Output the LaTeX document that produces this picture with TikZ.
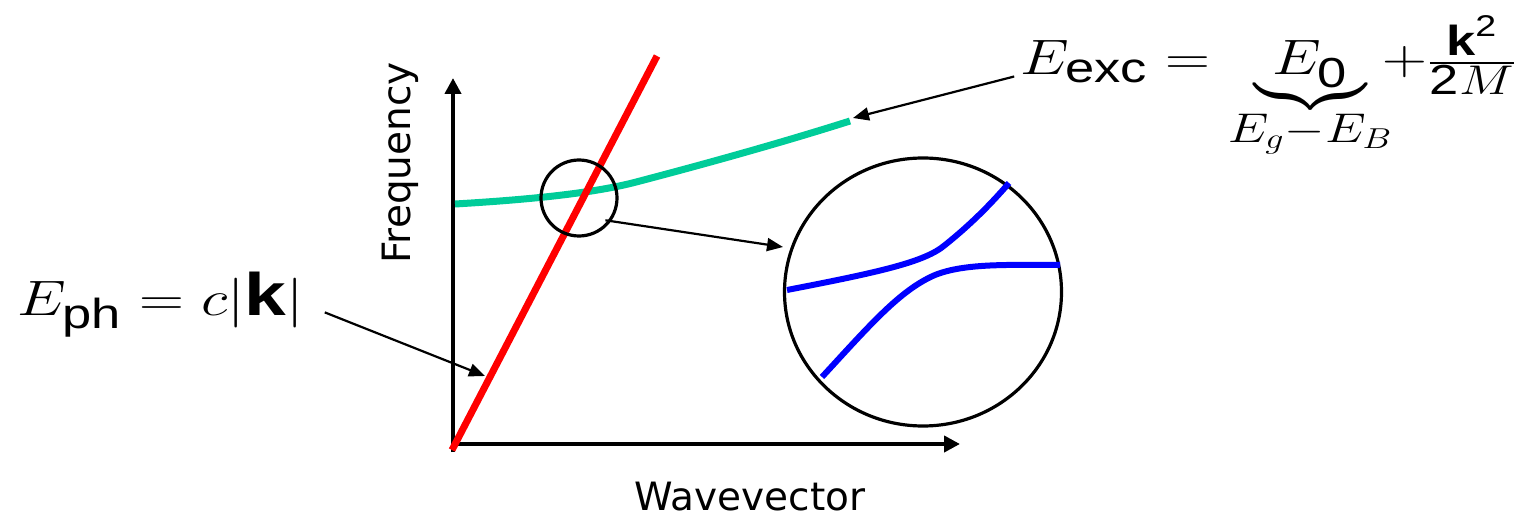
\documentclass[tikz,border=0pt]{standalone}
\usepackage{amsmath}
\usepackage{graphicx}
\usepackage{fontspec}
\setsansfont{Liberation Sans}
\newfontfamily\labelfont{DejaVu Sans}
\usetikzlibrary{arrows.meta,shapes.geometric}
\definecolor{excgreen}{RGB}{0,204,153}
\newcommand{\sft}[1]{\text{\sffamily #1}}
\newcommand{\sfk}{\text{\sffamily\bfseries k}}
\newcommand{\wideeq}[1]{\scalebox{1.25}[1]{#1}}
\begin{document}
\begin{tikzpicture}[x=0.5pt,y=-0.5pt,
  axis/.style={line width=2pt,-{Triangle[length=8pt,width=8pt]}},
  ptr/.style={line width=1.1pt,-{Triangle[length=8pt,width=6.5pt]}},
  lens/.style={draw,line width=1.6pt,inner sep=0pt,outer sep=0pt},
  axlabel/.style={font=\labelfont\fontsize{19.5}{23}\selectfont,inner sep=0pt},
  eqlabel/.style={font=\fontsize{30}{36}\selectfont,inner sep=0pt},
  curve/.style={line width=3.5pt},
  bluecurve/.style={blue,line width=3pt}]
\useasboundingbox (0,0) rectangle (1515,518);
% axes
\coordinate (ybot) at (453,452);
\coordinate (ytip) at (453,78);
\coordinate (xleft) at (451,444);
\coordinate (xtip) at (960,444);
\draw[axis] (ybot) -- (ytip);
\draw[axis] (xleft) -- (xtip);
% exciton dispersion
\coordinate (gstart) at (455,204);
\coordinate (gend) at (850,121);
\draw[curve,excgreen] (gstart) .. controls (540,199) and (600,192) .. (640,181)
   .. controls (720,160) and (790,140) .. (gend);
% photon line
\coordinate (rstart) at (452,450);
\coordinate (rend) at (657,56);
\draw[curve,red] (rstart) -- (rend);
% zoom circles
\node[lens,circle,minimum size=38pt] (small) at (579,198) {};
\node[lens,ellipse,minimum width=138.5pt,minimum height=134pt] (big) at (923,292) {};
\coordinate (zoomtip) at (783,247);
\draw[ptr,shorten <=-2pt] (small.-37) -- (zoomtip);
% anticrossing
\coordinate (ua) at (787,290);
\coordinate (ub) at (1009,183);
\coordinate (la) at (822,377);
\coordinate (lb) at (1060,265);
\draw[bluecurve] (ua) .. controls (880,272) and (925,262) .. (945,245)
   .. controls (970,225) and (990,205) .. (ub);
\draw[bluecurve] (la) .. controls (870,325) and (900,290) .. (935,275)
   .. controls (965,263) and (1010,265) .. (lb);
% labels
\node[axlabel,rotate=90] (freq) at (400,163) {Frequency};
\node[axlabel] (wave) at (750,497) {Wavevector};
\node[eqlabel,anchor=base west] (eph) at (17,315) {\wideeq{$E_{\sft{ph}} = c|\sfk|$}};
\coordinate (phtip) at (485,376);
\draw[ptr,shorten <=11pt] (eph.east) -- (phtip);
\node[eqlabel,anchor=base west] (eexc) at (1020,75)
  {\wideeq{$E_{\sft{exc}} = \underbrace{E_{\sft{0}}}_{E_g-E_B}\mskip-6mu{+}\frac{\sfk^{\sft{2}}}{\sft{2}M}$}};
\coordinate (exctip) at (853,118);
\draw[ptr,shorten <=3pt] (eexc.base west) -- (exctip);
\end{tikzpicture}
\end{document}
